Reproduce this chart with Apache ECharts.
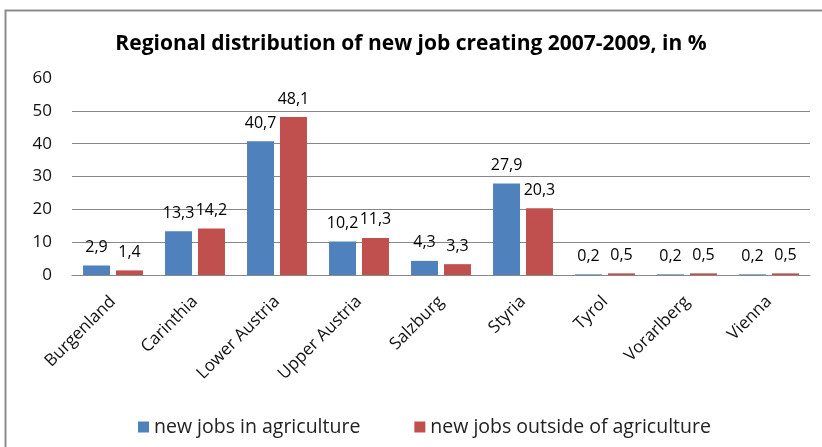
<!DOCTYPE html>
<html>
<head>
<meta charset="utf-8">
<script src="https://cdn.jsdelivr.net/npm/echarts@6/dist/echarts.min.js"></script>
<style>
html,body{margin:0;padding:0;background:#fff;}
#c{width:822px;height:447px;}
</style>
</head>
<body>
<div id="c"></div>
<script>
const categories = ['Burgenland','Carinthia','Lower Austria','Upper Austria','Salzburg','Styria','Tyrol','Vorarlberg','Vienna'];
const agriculture = [2.9, 13.3, 40.7, 10.2, 4.3, 27.9, 0.2, 0.2, 0.2];
const outsideAgriculture = [1.4, 14.2, 48.1, 11.3, 3.3, 20.3, 0.5, 0.5, 0.5];
const seriesNames = ['new jobs in agriculture', 'new jobs outside of agriculture'];
const yTicks = [0, 10, 20, 30, 40, 50, 60];

const FONT = '"Open Sans", "Liberation Sans", sans-serif';
const labelFmt = p => String(p.value).replace('.', ',');

const chart = echarts.init(document.getElementById('c'));
chart.setOption({
  animation: false,
  backgroundColor: '#fff',
  title: {
    text: 'Regional distribution of new job creating 2007-2009, in %',
    left: 'center', top: 29,
    textStyle: {fontFamily: FONT, fontSize: 21, fontWeight: 'bold', color: '#000'}
  },
  graphic: [{
    type: 'polyline',
    shape: {points: [[5.5, 460], [5.5, 10.5], [830, 10.5]]},
    style: {stroke: '#8c8c8c', lineWidth: 2, fill: null}
  }],
  legend: {
    top: 412, left: 133,
    itemWidth: 11, itemHeight: 11, itemGap: 54,
    icon: 'rect',
    textStyle: {fontFamily: FONT, fontSize: 19.5, color: '#222'},
    data: seriesNames
  },
  grid: {left: 72, right: 12, top: 78, bottom: 172},
  xAxis: {
    type: 'category',
    data: categories,
    axisTick: {show: false},
    axisLine: {lineStyle: {color: '#888', width: 1}},
    axisLabel: {rotate: 45, fontFamily: FONT, fontSize: 17, color: '#111', margin: 24, interval: 0}
  },
  yAxis: {
    type: 'value',
    min: yTicks[0], max: yTicks[yTicks.length - 1], interval: 10,
    axisLine: {show: false},
    axisTick: {show: false},
    axisLabel: {fontFamily: FONT, fontSize: 17, color: '#111', margin: 20},
    splitLine: {show: true, showMaxLine: false, lineStyle: {color: '#888', width: 1}}
  },
  series: [
    {
      name: seriesNames[0], type: 'bar', data: agriculture,
      barWidth: 27, barGap: '22%',
      itemStyle: {color: '#4F81BD'},
      label: {show: true, position: 'top', distance: 10, formatter: labelFmt,
        fontFamily: FONT, fontSize: 16, color: '#000'}
    },
    {
      name: seriesNames[1], type: 'bar', data: outsideAgriculture,
      barWidth: 27,
      itemStyle: {color: '#C0504D'},
      label: {show: true, position: 'top', distance: 10, formatter: labelFmt,
        fontFamily: FONT, fontSize: 16, color: '#000'}
    }
  ]
});
</script>
</body>
</html>
